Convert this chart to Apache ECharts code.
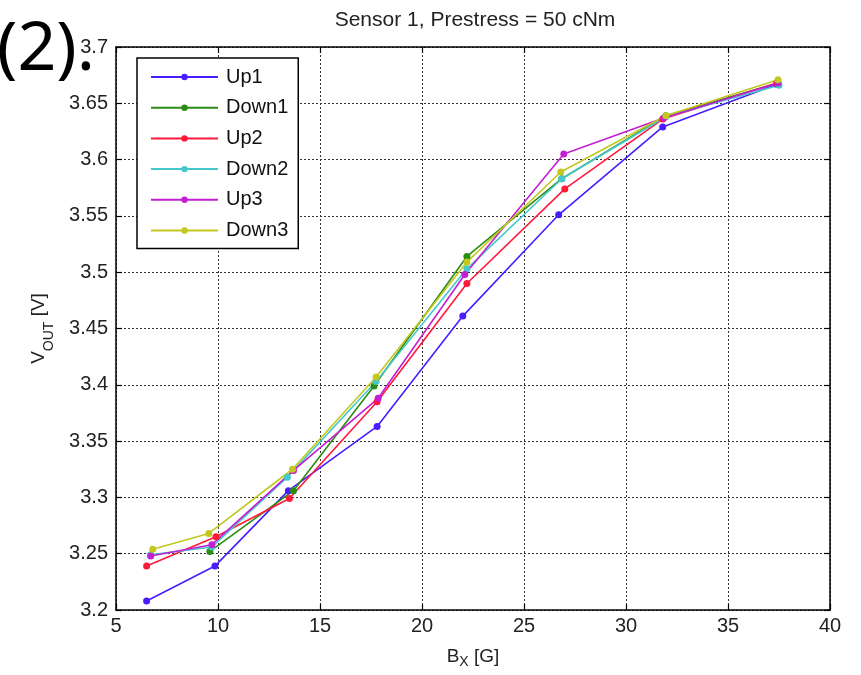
<!DOCTYPE html>
<html>
<head>
<meta charset="utf-8">
<script src="https://cdn.jsdelivr.net/npm/echarts@6/dist/echarts.min.js"></script>
<style>
  html, body { margin: 0; padding: 0; background: #fff; }
  #chart { width: 861px; height: 675px; }
</style>
</head>
<body>
<div id="chart"></div>
<script>
// B_X [G] values and V_OUT [V] values
const up1X   = [6.5, 9.85, 13.45, 17.8, 22.0, 26.7, 31.8, 37.4];
const up1Y   = [3.208, 3.239, 3.306, 3.363, 3.461, 3.551, 3.629, 3.667];
const down1X = [9.6, 13.7, 17.65, 22.2, 26.85, 31.95, 37.45];
const down1Y = [3.252, 3.306, 3.399, 3.514, 3.583, 3.639, 3.668];
const up2X   = [6.5, 9.9, 13.5, 17.8, 22.2, 27.0, 31.8, 37.4];
const up2Y   = [3.239, 3.265, 3.299, 3.385, 3.490, 3.574, 3.636, 3.668];
const down2X = [6.7, 9.7, 13.4, 17.75, 22.2, 26.85, 31.95, 37.5];
const down2Y = [3.249, 3.256, 3.318, 3.403, 3.503, 3.583, 3.638, 3.666];
const up3X   = [6.7, 9.7, 13.7, 17.85, 22.1, 26.95, 31.85, 37.45];
const up3Y   = [3.248, 3.258, 3.324, 3.388, 3.498, 3.605, 3.637, 3.668];
const down3X = [6.8, 9.55, 13.65, 17.75, 22.2, 26.8, 31.95, 37.45];
const down3Y = [3.254, 3.268, 3.325, 3.407, 3.509, 3.589, 3.639, 3.671];

const seriesNames  = ['Up1', 'Down1', 'Up2', 'Down2', 'Up3', 'Down3'];
const seriesColors = ['#4a1cff', '#2b8c14', '#ff1a3a', '#45c8cc', '#c21fd2', '#c2c81e'];
const xLists = [up1X, down1X, up2X, down2X, up3X, down3X];
const yLists = [up1Y, down1Y, up2Y, down2Y, up3Y, down3Y];

const font = 'Liberation Sans, Arial, sans-serif';
let myChart = echarts.init(document.getElementById('chart'));

let series = seriesNames.map((name, i) => ({
    name: name,
    type: 'line',
    xAxisIndex: 0,
    yAxisIndex: 0,
    symbol: 'circle',
    symbolSize: 7,
    color: seriesColors[i],
    lineStyle: { width: 1.6 },
    data: xLists[i].map((x, k) => [x, yLists[i][k]]),
}));

// tick marks pointing inwards on all 4 sides
const frameAxis = {
    axisLine: { show: true, onZero: false, lineStyle: { color: '#000', width: 1.5 } },
    axisTick: { show: true, inside: true, length: 6, lineStyle: { color: '#000', width: 1.2 } },
};

// axis name with subscript, subDrop = how far the subscript goes down
function nameStyle (subDrop) {
    return {
        fontFamily: font, color: '#222',
        rich: {
            a: { fontSize: 19, fontFamily: font, color: '#222' },
            s: { fontSize: 14, fontFamily: font, color: '#222', padding: [subDrop, 0, 0, 0] },
        },
    };
}

myChart.setOption({
    animation: false,
    backgroundColor: '#fff',
    title: {
        text: 'Sensor 1, Prestress = 50 cNm',
        left: 470,
        textAlign: 'center',
        top: 5,
        textStyle: { fontFamily: font, fontSize: 21, fontWeight: 'normal', color: '#222' },
    },
    grid: { left: 116, right: 31, top: 47, bottom: 65 },
    legend: {
        orient: 'vertical',
        left: 137,
        top: 58,
        padding: [9, 10, 8, 13],
        itemGap: 10.7,
        itemWidth: 67,
        itemHeight: 8,
        backgroundColor: '#fff',
        borderColor: '#000',
        borderWidth: 1.5,
        borderRadius: 0,
        data: seriesNames,
        textStyle: { fontFamily: font, fontSize: 20, color: '#111', padding: [0, 0, 0, 3] },
    },
    xAxis: [
        Object.assign({
            type: 'value', min: 5, max: 40, interval: 5, position: 'bottom',
            name: '{a|B}{s|X}{a| [G]}',
            nameLocation: 'middle',
            nameGap: 34,
            nameTextStyle: nameStyle(11),
            axisLabel: { fontFamily: font, fontSize: 20, color: '#222', margin: 6 },
            splitLine: { show: true, lineStyle: { color: '#333', type: [2, 2], width: 1 } },
        }, frameAxis),
        Object.assign({
            type: 'value', min: 5, max: 40, interval: 5, position: 'top',
            axisLabel: { show: false }, splitLine: { show: false },
        }, frameAxis),
    ],
    yAxis: [
        Object.assign({
            type: 'value', min: 3.2, max: 3.7, interval: 0.05, position: 'left',
            name: '{a|V}{s|OUT}{a| [V]}',
            nameLocation: 'middle',
            nameGap: 60,
            nameTextStyle: nameStyle(20),
            axisLabel: {
                fontFamily: font, fontSize: 20, color: '#222', margin: 8,
                formatter: v => String(Math.round(v * 100) / 100),
            },
            splitLine: { show: true, lineStyle: { color: '#333', type: [2, 2], width: 1 } },
        }, frameAxis),
        Object.assign({
            type: 'value', min: 3.2, max: 3.7, interval: 0.05, position: 'right',
            axisLabel: { show: false }, splitLine: { show: false },
        }, frameAxis),
    ],
    graphic: [{
        type: 'text',
        left: -3,
        top: 17,
        style: { text: '(2).', fontFamily: 'Noto Sans, Open Sans, sans-serif', fontSize: 68, fill: '#000' },
    }],
    series: series,
});

window.addEventListener('resize', function () {
    myChart.resize();
});
</script>
</body>
</html>
